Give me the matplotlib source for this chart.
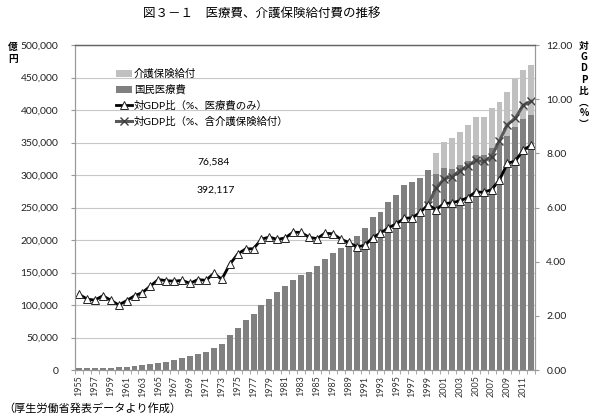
import matplotlib
matplotlib.use('Agg')
import matplotlib.pyplot as plt
import matplotlib.ticker as ticker
import numpy as np

plt.rcParams['font.family'] = ['Lato', 'Noto Sans CJK JP', 'DejaVu Sans']
plt.rcParams['font.size'] = 7

YEARS = list(range(1955, 2013))

# 国民医療費 (億円)
MEDICAL = [2388, 2583, 2897, 3230, 3625, 4095, 5130, 6132, 7541, 9389,
           11224, 13002, 15116, 18016, 20780, 24962, 27250, 33994, 39496, 53786,
           64779, 76684, 85686, 100042, 109510, 119805, 128709, 138659, 145438, 150932,
           160159, 170690, 180759, 187554, 197290, 206074, 218260, 234784, 243631, 257908,
           269577, 284542, 289149, 295823, 307019, 301418, 310998, 309507, 315375, 321111,
           331289, 331276, 341360, 348084, 360067, 374202, 385850, 392117]

# 介護保険給付 (億円), 2000-2012
CARE_YEARS = list(range(2000, 2013))
CARE = [32900, 40300, 47000, 51200, 55800, 58500, 58500, 62200, 64700, 68100,
        73000, 76000, 76584]

# 対GDP比 (%, 医療費のみ)
GDP_MED = [2.80, 2.62, 2.58, 2.74, 2.58, 2.40, 2.56, 2.74, 2.86, 3.10,
           3.34, 3.30, 3.28, 3.31, 3.20, 3.34, 3.31, 3.57, 3.35, 3.90,
           4.28, 4.47, 4.48, 4.83, 4.91, 4.82, 4.88, 5.09, 5.08, 4.90,
           4.85, 5.05, 5.03, 4.83, 4.71, 4.55, 4.60, 4.88, 5.06, 5.25,
           5.40, 5.60, 5.62, 5.82, 6.10, 5.92, 6.15, 6.17, 6.25, 6.36,
           6.58, 6.56, 6.66, 7.02, 7.63, 7.72, 8.12, 8.30]

# 対GDP比 (%, 含介護保険給付), 1999-2012
TOTAL_YEARS = list(range(1999, 2013))
GDP_TOTAL = [6.10, 6.72, 7.05, 7.14, 7.36, 7.54, 7.74, 7.70, 7.88, 8.47,
             9.06, 9.30, 9.78, 9.92]

fig = plt.figure(figsize=(6, 4.17), dpi=100)
ax = fig.add_axes([0.125, 0.1127, 0.767, 0.7793])
ax2 = ax.twinx()

care_full = np.zeros(len(YEARS))
for y, v in zip(CARE_YEARS, CARE):
    care_full[YEARS.index(y)] = v

ax.grid(axis='y', color='#c8c8c8', linewidth=0.8, zorder=0)
ax.set_axisbelow(True)
b_med = ax.bar(YEARS, MEDICAL, width=0.75, color='#808080', zorder=2, label='国民医療費')
b_care = ax.bar(YEARS, care_full, bottom=MEDICAL, width=0.75, color='#c0c0c0', zorder=2,
                label='介護保険給付')

l_tot, = ax2.plot(TOTAL_YEARS, GDP_TOTAL, color='#595959', linewidth=2.2, marker='x',
                  markersize=5.5, markeredgecolor='#404040', markeredgewidth=1,
                  label='対GDP比（%、含介護保険給付）')
l_med, = ax2.plot(YEARS, GDP_MED, color='black', linewidth=2, marker='^',
                  markersize=5.5, markerfacecolor='white', markeredgecolor='#222222',
                  markeredgewidth=0.7, label='対GDP比（%、医療費のみ）')

ax.set_xlim(1954.5, 2012.5)
ax.set_ylim(0, 500000)
ax2.set_ylim(0, 12)
ax.set_yticks(np.arange(0, 500001, 50000))
ax.yaxis.set_major_formatter(ticker.FuncFormatter(lambda v, p: f'{int(v):,}'))
ax2.set_yticks(np.arange(0, 12.01, 2))
ax2.yaxis.set_major_formatter(ticker.FormatStrFormatter('%.2f'))

ax.set_xticks(YEARS[::2])
ax.set_xticklabels([str(y) for y in YEARS[::2]], rotation=90)
ax.set_xticks(np.arange(1954.5, 2013, 1), minor=True)
ax.tick_params(axis='x', which='major', length=0, pad=4, labelsize=6.5, colors='#333333')
ax.tick_params(axis='x', which='minor', length=3, color='#999999')
ax.tick_params(axis='y', length=3, pad=9, color='#999999', labelsize=7.5, labelcolor='#222222')
ax2.tick_params(axis='y', length=3, pad=5, color='#999999', labelsize=7.5, labelcolor='#222222')

for a in (ax, ax2):
    for side in ('left', 'right', 'bottom'):
        a.spines[side].set_color('#999999')
        a.spines[side].set_linewidth(0.8)
    a.spines['top'].set_color('#666666')
    a.spines['top'].set_linewidth(0.9)

ax.text(0.265, 0.64, f'{CARE[-1]:,}', transform=ax.transAxes, fontsize=7.5, va='center')
ax.text(0.265, 0.554, f'{MEDICAL[-1]:,}', transform=ax.transAxes, fontsize=7.5, va='center')

handles = [b_care, b_med, l_med, l_tot]
labels = [h.get_label() for h in handles]
ax2.legend(handles, labels, loc='upper left', bbox_to_anchor=(0.08, 0.94), frameon=False,
           fontsize=7.5, handlelength=1.5, handletextpad=0.2, labelspacing=0.55,
           borderaxespad=0)

cjk = ['Noto Sans CJK JP']
fig.text(262 / 600, 1 - 14 / 417, '図３－１　医療費、介護保険給付費の推移',
         ha='center', va='center', fontsize=9, family=cjk)

# stacked axis titles
fig.text(13 / 600, 1 - 42 / 417, '億\n円', ha='center', va='top', fontsize=7,
         fontweight='bold', linespacing=1.2, family=cjk)
fig.text(584 / 600, 1 - 41 / 417, '対\nG\nD\nP\n比\n︵\n%\n︶', ha='center', va='top',
         fontsize=7, fontweight='bold', linespacing=1.15, family=cjk)

fig.text(0.005, 1 - 408 / 417, '（厚生労働省発表データより作成）', ha='left', va='center',
         fontsize=8, family=cjk)

fig.savefig('out.png', dpi=100)
